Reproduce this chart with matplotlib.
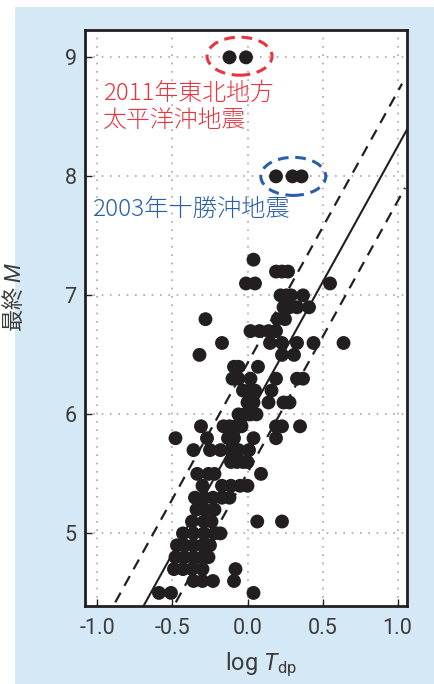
import matplotlib
matplotlib.use('Agg')
import matplotlib.pyplot as plt
from matplotlib.patches import Ellipse, Rectangle
import numpy as np

plt.rcParams['font.family'] = ['Roboto', 'Noto Sans CJK JP', 'DejaVu Sans']
plt.rcParams['mathtext.fontset'] = 'custom'
plt.rcParams['mathtext.it'] = 'Roboto:italic'
plt.rcParams['mathtext.rm'] = 'Roboto'

## data: log Tdp and final magnitude ##
rows = {
    9.0: [-0.12, -0.01],
    8.0: [0.19, 0.30, 0.36],
    7.3: [0.04],
    7.2: [0.19, 0.23, 0.27],
    7.1: [-0.01, 0.05, 0.55],
    7.0: [0.22, 0.26, 0.29, 0.37],
    6.9: [0.24, 0.28, 0.33, 0.41],
    6.8: [-0.28, 0.20, 0.25],
    6.7: [0.02, 0.08, 0.14, 0.19],
    6.6: [-0.17, 0.15, 0.23, 0.33, 0.44, 0.64],
    6.5: [-0.32, 0.23, 0.31],
    6.4: [-0.09, -0.06, 0.07],
    6.3: [-0.10, -0.06, 0.02, 0.19, 0.33, 0.37],
    6.2: [-0.03, 0.01, 0.05, 0.16],
    6.1: [0.00, 0.04, 0.14, 0.24, 0.28],
    6.0: [-0.06, -0.02, 0.02, 0.06],
    5.9: [-0.31, -0.16, -0.12, -0.08, -0.04, 0.19, 0.23, 0.35],
    5.8: [-0.48, -0.27, -0.13, -0.09, 0.04, 0.19],
    5.7: [-0.36, -0.25, -0.18, -0.11, -0.06, 0.01],
    5.6: [-0.11, -0.07, -0.03, 0.00],
    5.5: [-0.335, -0.26, -0.22, 0.09],
    5.4: [-0.30, -0.17, -0.11, -0.05, 0.00],
    5.3: [-0.35, -0.29, -0.23, -0.17, -0.12],
    5.2: [-0.34, -0.28, -0.22],
    5.1: [-0.37, -0.29, -0.24, 0.065, 0.23],
    5.0: [-0.43, -0.36, -0.29, -0.22, -0.18],
    4.9: [-0.47, -0.42, -0.36, -0.30, -0.25],
    4.8: [-0.48, -0.42, -0.36, -0.30, -0.26],
    4.7: [-0.49, -0.43, -0.37, -0.30, -0.08],
    4.6: [-0.36, -0.30, -0.23, -0.09],
    4.5: [-0.59, -0.51, 0.04],
}
log_tdp = []
mag = []
for m, xs in rows.items():
    for x in xs:
        log_tdp.append(x)
        mag.append(m)

slope = 2.28
intercept = 5.97
spread = 0.46

xticks = [-1.0, -0.5, 0.0, 0.5, 1.0]
yticks = [5, 6, 7, 8, 9]

fig = plt.figure(figsize=(4.35, 6.84), dpi=100)
fig.patches.append(Rectangle((15/435, 0), 1, (684-7)/684, transform=fig.transFigure,
                             facecolor='#d5e8f5', edgecolor='none', zorder=-10))
ax = fig.add_axes([85/435, 1-606/684, 322/435, 576.5/684])

ax.scatter(log_tdp, mag, s=100, color='#231f20', edgecolors='none', zorder=3)

xl = np.array([-1.2, 1.2])
ax.plot(xl, slope*xl + intercept, color='#231f20', lw=1.5, zorder=4)
xd = np.array([-1.2, 1.03])
ax.plot(xd, slope*xd + intercept + spread, color='#231f20', lw=1.6,
        dashes=(5, 3.5), zorder=4)
xd2 = np.array([-1.2, 1.05])
ax.plot(xd2, slope*xd2 + intercept - spread, color='#231f20', lw=1.6,
        dashes=(5, 3.5), zorder=4)

ax.add_patch(Ellipse((-0.053, 9.01), 0.433, 0.32, fill=False, edgecolor='#e8343e',
                     lw=2.2, linestyle=(0, (3.5, 2.2)), zorder=5))
ax.add_patch(Ellipse((0.305, 8.0), 0.433, 0.32, fill=False, edgecolor='#2a5ea8',
                     lw=2.2, linestyle=(0, (3.5, 2.2)), zorder=5))

ax.text(-0.96, 8.80, '2011年東北地方\n太平洋沖地震', color='#e8343e', fontsize=17.2,
        va='top', ha='left', linespacing=1.1,
        family=['Noto Sans CJK JP', 'DejaVu Sans'], fontweight='light')
ax.text(-1.03, 7.72, '2003年十勝沖地震', color='#2a5ea8', fontsize=17.5,
        va='center', ha='left',
        family=['Noto Sans CJK JP', 'DejaVu Sans'], fontweight='light')

ax.set_xlim(-1.083, 1.063)
ax.set_ylim(4.39, 9.234)
ax.set_xticks(xticks)
ax.set_xticklabels(['%.1f' % v for v in xticks])
ax.set_yticks(yticks)
ax.grid(True, color='#a8a8a8', linestyle=(0, (1, 4)), lw=1.2)
ax.set_axisbelow(True)
ax.tick_params(direction='in', length=5, width=1, color='#231f20',
               labelsize=15.5, labelcolor='#3c3c3c')
ax.tick_params(axis='x', pad=9)
ax.tick_params(axis='y', pad=6)
for sp in ax.spines.values():
    sp.set_linewidth(2)
    sp.set_color('#231f20')

ax.set_xlabel(r'log $T_{\mathrm{dp}}$', fontsize=17, color='#3c3c3c')
ax.xaxis.set_label_coords(0.547, -0.078)
ax.set_ylabel('最終 $M$', fontsize=16, color='#3c3c3c',
              family=['Noto Sans CJK JP', 'DejaVu Sans'])
ax.yaxis.set_label_coords(-0.183, 0.536)

fig.savefig('out.png', dpi=100)
